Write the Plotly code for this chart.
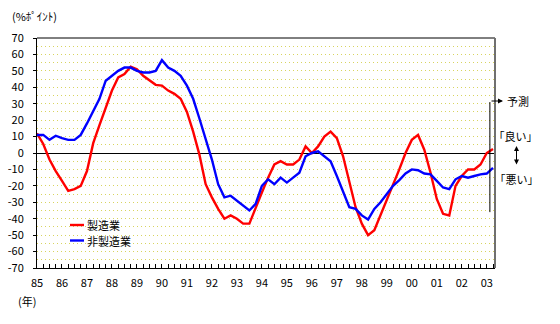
import plotly.graph_objects as go

# Business conditions DI (quarterly, 1985 Q1 - 2003 Q2, last point is the forecast)
start_year = 1985
manufacturing = [
    12, 5.5, -4, -11,
    -17, -23, -22, -20,
    -11, 6, 17, 28,
    38, 46, 48, 52.5,
    51, 47, 44, 41.5,
    41, 38, 36, 33,
    25, 13, -1, -19,
    -27, -34, -40, -38,
    -40, -43, -43, -33,
    -24, -15, -7, -5,
    -7, -7, -4, 4,
    0, 4, 10, 13,
    9, -2, -17, -33,
    -43, -50, -47, -38,
    -28, -19, -10, 0,
    8, 11, 2, -12,
    -28, -37, -38, -20,
    -14, -10, -10, -7,
    0, 2.5,
]
non_manufacturing = [
    11, 11, 8, 10.5,
    9, 8, 8, 11,
    18, 26, 33, 44,
    47, 50, 52, 52,
    50, 49, 49, 50,
    56.5, 52, 50, 47,
    41, 33, 21, 8,
    -4, -19, -27, -26,
    -29, -32, -35, -31,
    -20, -16, -19, -15,
    -18, -15, -12, -2,
    0, 1, -2, -5,
    -14, -23, -33, -34,
    -38, -40.5, -34, -30,
    -25, -20, -16.5, -12.5,
    -10, -10.5, -12.5, -13,
    -17, -21, -22, -16,
    -14, -15, -14, -13,
    -12.5, -9,
]
series_names = ["製造業", "非製造業"]
year_ticks = list(range(1985, 2004))
year_labels = ["85", "86", "87", "88", "89", "90", "91", "92", "93", "94",
               "95", "96", "97", "98", "99", "00", "01", "02", "03"]
y_ticks = list(range(-70, 71, 10))
y_labels = [str(v) for v in y_ticks]
forecast_at = 2003.125
forecast_span = [31, -36]

quarters = [start_year + i / 4 for i in range(len(manufacturing))]

W, H = 560, 324
L, R, T, B = 37, 65, 38, 56
PW, PH = W - L - R, H - T - B


def px(x):
    return (x - L) / PW


def py(y):
    return (H - B - y) / PH


FONT = "Noto Sans CJK JP"
RED = "#ff0000"
BLUE = "#0000ff"

fig = go.Figure()
fig.add_trace(go.Scatter(x=quarters, y=manufacturing, mode="lines", name=series_names[0],
                         line=dict(color=RED, width=2.4), showlegend=False))
fig.add_trace(go.Scatter(x=quarters, y=non_manufacturing, mode="lines", name=series_names[1],
                         line=dict(color=BLUE, width=2.4), showlegend=False))

grid = dict(showgrid=True, gridcolor="#d8d460", griddash="1px,3px", gridwidth=1)

fig.update_layout(
    width=W, height=H,
    margin=dict(l=L, r=R, t=T, b=B, pad=0),
    paper_bgcolor="white", plot_bgcolor="white",
    font=dict(family=FONT, size=11, color="black"),
    xaxis=dict(
        range=[1985, 2003.33], tickmode="array", tickvals=year_ticks, ticktext=year_labels,
        ticks="inside", ticklen=4, tickcolor="black", showgrid=False, zeroline=False,
        showline=True, linecolor="black", linewidth=1, ticklabelstandoff=5,
        automargin=False, tickfont=dict(family=FONT, size=11),
        minor=dict(tick0=1985, dtick=0.25, ticks="inside", ticklen=4, tickcolor="black",
                   showgrid=False),
    ),
    yaxis=dict(
        range=[-70, 70], tickmode="array", tickvals=y_ticks, ticktext=y_labels,
        ticks="outside", ticklen=3, tickcolor="black",
        showline=True, linecolor="black", linewidth=1,
        zeroline=True, zerolinecolor="black", zerolinewidth=1,
        ticklabelstandoff=7, automargin=False, tickfont=dict(family=FONT, size=11),
        minor=dict(dtick=5, tick0=0, **grid), **grid,
    ),
)

shapes = [
    # top frame and right frame
    dict(type="line", xref="paper", yref="paper", x0=0, x1=1, y0=1, y1=1,
         line=dict(color="black", width=1)),
    dict(type="line", xref="paper", yref="paper", x0=1, x1=1, y0=0, y1=1,
         line=dict(color="#707070", width=2)),
    # forecast marker
    dict(type="line", xref="x", yref="y", x0=forecast_at, x1=forecast_at,
         y0=forecast_span[0], y1=forecast_span[1], line=dict(color="black", width=1)),
    # legend keys
    dict(type="line", xref="paper", yref="paper", x0=px(70), x1=px(84), y0=py(225), y1=py(225),
         line=dict(color=RED, width=2.4)),
    dict(type="line", xref="paper", yref="paper", x0=px(70), x1=px(84), y0=py(240.5), y1=py(240.5),
         line=dict(color=BLUE, width=2.4)),
]
fig.update_layout(shapes=shapes)

ann = [
    dict(text="(%ﾎﾟｲﾝﾄ)", x=px(10), y=py(16), xanchor="left", yanchor="middle"),
    dict(text="(年)", x=px(16), y=py(301), xanchor="left", yanchor="middle"),
    dict(text=series_names[0], x=px(85), y=py(225), xanchor="left", yanchor="middle"),
    dict(text=series_names[1], x=px(85), y=py(240.5), xanchor="left", yanchor="middle"),
    dict(text="予測", x=px(505), y=py(101), xanchor="left", yanchor="middle"),
    dict(text="｢良い｣", x=px(497), y=py(136), xanchor="left", yanchor="middle"),
    dict(text="｢悪い｣", x=px(498), y=py(179), xanchor="left", yanchor="middle"),
]
for a in ann:
    fig.add_annotation(xref="paper", yref="paper", showarrow=False,
                       font=dict(family=FONT, size=11, color="black"), **a)

# arrow from the forecast marker to its label
fig.add_annotation(xref="paper", yref="paper", x=px(503), y=py(101), ax=-13, ay=0,
                   text="", showarrow=True, arrowhead=2, arrowsize=1, arrowwidth=1,
                   arrowcolor="black")
# up/down arrow between the good/bad labels
fig.add_annotation(xref="paper", yref="paper", x=px(516.5), y=py(146), ax=0, ay=20,
                   text="", showarrow=True, arrowhead=2, arrowside="end+start",
                   arrowsize=1, arrowwidth=1, arrowcolor="black")

fig.write_html("out.html")
